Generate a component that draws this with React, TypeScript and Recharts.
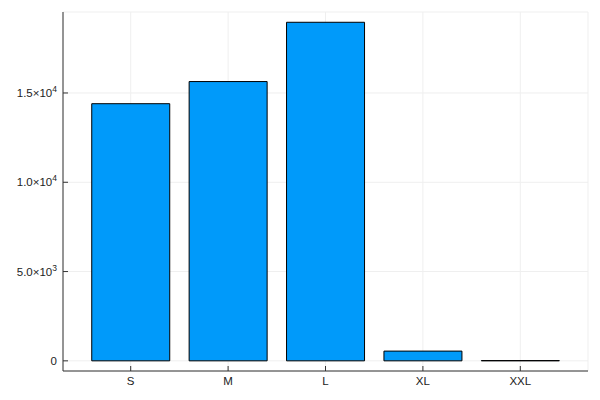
import React from "react";
import { BarChart, Bar, XAxis, YAxis, CartesianGrid } from "recharts";

const sizes = ["S", "M", "L", "XL", "XXL"];
const counts = [14400, 15640, 18960, 545, 15];
const yTicks = [0, 5000, 10000, 15000];

const data = sizes.map((size, i) => ({ size, count: counts[i] }));

const font = "'Liberation Sans', Arial, sans-serif";

function sciLabel(v: number) {
  if (v === 0) return { base: "0", exp: "" };
  const e = Math.floor(Math.log10(v));
  const m = v / Math.pow(10, e);
  return { base: `${m.toFixed(1)}×10`, exp: String(e) };
}

function YTick(props: any) {
  const { x, y, payload } = props;
  const { base, exp } = sciLabel(payload.value);
  return (
    <g>
      <line x1={x} x2={x + 5} y1={y} y2={y} stroke="#333" strokeWidth={1} />
      <text x={x - 6} y={y + 4} textAnchor="end" fontSize={11.5} fill="#222" fontFamily={font}>
        {base}
        {exp && (
          <tspan dy={-5} fontSize={8.5}>
            {exp}
          </tspan>
        )}
      </text>
    </g>
  );
}

function XTick(props: any) {
  const { x, y, payload } = props;
  return (
    <g>
      <line x1={x} x2={x} y1={y} y2={y - 5} stroke="#333" strokeWidth={1} />
      <text x={x} y={y + 14} textAnchor="middle" fontSize={11.5} fill="#222" fontFamily={font}>
        {payload.value}
      </text>
    </g>
  );
}

export default function App() {
  return (
    <div style={{ position: "absolute", top: 0, left: 0, background: "#fff" }}>
      <BarChart
        width={600}
        height={400}
        data={data}
        margin={{ top: 12, right: 12, left: 0, bottom: 0 }}
        barCategoryGap="10%"
      >
        <CartesianGrid stroke="#efefef" strokeWidth={1} />
        <XAxis
          dataKey="size"
          height={29}
          padding={{ left: 19, right: 19 }}
          tickLine={false}
          tickSize={0}
          tickMargin={0}
          axisLine={{ stroke: "#333" }}
          tick={<XTick />}
          interval={0}
        />
        <YAxis
          width={63}
          type="number"
          domain={[-569, 19535]}
          ticks={yTicks}
          tickLine={false}
          tickSize={0}
          tickMargin={0}
          axisLine={{ stroke: "#333" }}
          tick={<YTick />}
          allowDataOverflow
        />
        <Bar dataKey="count" fill="#009AFA" stroke="#000" strokeWidth={1} isAnimationActive={false} />
      </BarChart>
    </div>
  );
}
